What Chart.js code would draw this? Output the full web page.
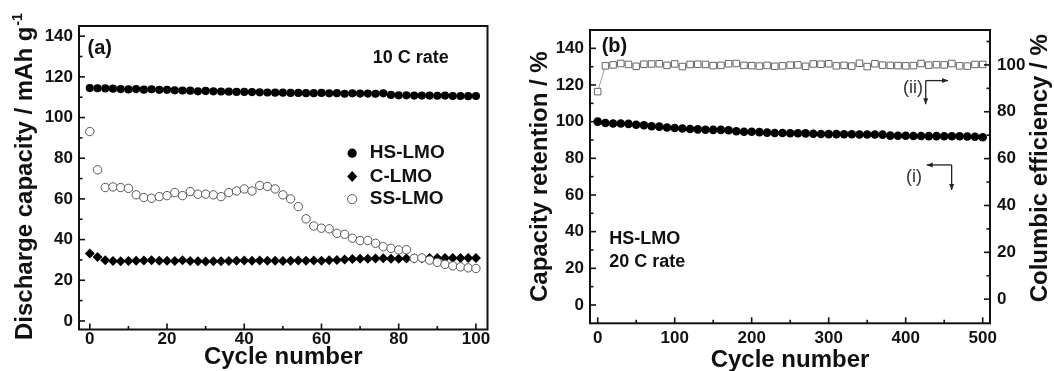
<!DOCTYPE html>
<html>
<head>
<meta charset="utf-8">
<script src="https://cdn.jsdelivr.net/npm/chart.js@4/dist/chart.umd.min.js"></script>
<style>
  html, body { margin: 0; padding: 0; background: #fff; }
  #wrap { position: relative; width: 1054px; height: 371px; background: #fff; overflow: hidden; }
  .pane { position: absolute; top: 0; width: 527px; height: 371px; }
</style>
</head>
<body>
<div id="wrap">
  <div class="pane" style="left:0"><canvas id="ca" width="527" height="371"></canvas></div>
  <div class="pane" style="left:527px"><canvas id="cb" width="527" height="371"></canvas></div>
</div>
<script>
// ---------- Panel (a) data ----------
const cyclesA = [0,2,4,6,8,10,12,14,16,18,20,22,24,26,28,30,32,34,36,38,40,42,44,46,48,50,
  52,54,56,58,60,62,64,66,68,70,72,74,76,78,80,82,84,86,88,90,92,94,96,98,100];
const hsLMO = [114.5,114.4,114.3,114.2,114.0,113.8,114.0,113.7,113.9,113.6,113.6,113.4,113.3,113.2,112.9,113.1,112.9,112.8,112.7,112.6,
  112.6,112.5,112.4,112.3,112.2,112.2,112.1,112.1,112.0,112.0,112.1,111.9,112.0,111.7,111.9,111.8,111.8,111.7,111.9,111.1,
  110.9,110.9,110.8,110.8,110.8,110.7,110.8,110.6,110.6,110.5,110.6];
const cLMO = [33.2,31.4,29.9,29.5,29.4,29.5,29.6,29.7,29.9,29.6,29.6,29.5,29.8,29.5,29.3,29.2,29.3,29.4,29.5,29.6,
  29.7,29.6,29.7,29.6,29.6,29.5,29.6,29.7,29.6,29.7,29.6,29.8,30.0,30.2,30.4,30.6,30.6,30.7,30.8,30.6,
  30.6,30.7,30.7,30.8,30.9,31.0,30.9,31.0,31.0,30.9,31.0];
const ssLMO = [93.1,74.3,65.6,65.9,65.6,65.2,62.0,60.7,60.3,61.1,61.6,63.1,61.6,63.6,62.3,62.3,62.0,61.1,63.1,63.9,
  64.9,63.9,66.6,66.1,64.9,62.0,60.0,56.2,50.2,46.7,45.6,45.3,43.1,42.6,40.7,39.5,39.6,38.2,36.5,35.7,
  34.9,35.0,30.8,31.0,29.9,28.8,27.8,27.1,26.6,26.1,25.8];
const seriesNamesA = ['HS-LMO', 'C-LMO', 'SS-LMO'];
const xTicksA = [0,20,40,60,80,100];
const xMinorA = [10,30,50,70,90];
const yTicksA = [0,20,40,60,80,100,120,140];
const yMinorA = [10,30,50,70,90,110,130];

// ---------- Panel (b) data ----------
const cyclesB = [0,10,20,30,40,50,60,70,80,90,100,110,120,130,140,150,160,170,180,190,200,
  210,220,230,240,250,260,270,280,290,300,310,320,330,340,350,360,370,380,390,400,
  410,420,430,440,450,460,470,480,490,500];
const retentionB = [100.0,99.3,99.0,99.0,98.8,98.3,98.0,97.5,97.3,96.8,96.5,96.3,96.0,95.8,95.6,95.5,95.5,95.3,94.8,94.5,94.5,
  94.3,94.0,93.8,93.8,93.7,93.7,93.6,93.4,93.3,93.2,93.2,93.1,93.1,93.0,93.0,93.0,92.9,92.4,92.3,92.3,
  92.2,92.2,92.1,92.1,92.0,92.0,92.0,91.9,91.8,91.5];
const efficiencyB = [88.6,99.6,100.0,100.6,100.2,99.4,100.3,100.4,100.5,99.8,100.4,99.3,100.2,100.3,100.2,99.7,99.8,100.5,100.6,99.8,99.7,
  99.5,99.8,99.4,99.6,99.9,100.0,99.4,100.4,100.3,100.5,99.6,99.8,99.5,100.7,99.3,100.5,99.9,99.8,99.7,99.6,
  99.7,100.6,99.9,100.1,100.0,100.6,99.6,99.5,100.2,100.2];
const xTicksB = [0,100,200,300,400,500];
const xMinorB = [50,150,250,350,450];
const yTicksB = [0,20,40,60,80,100,120,140];
const yMinorB = [10,30,50,70,90,110,130];
const y2TicksB = [0,20,40,60,80,100];
const y2MinorB = [10,30,50,70,90,110];

// ---------- helpers ----------
const FONT = "'Liberation Sans', Arial, Helvetica, sans-serif";
Chart.defaults.font.family = FONT;
Chart.defaults.color = '#111';
const pts = (xs, ys) => xs.map((x, i) => ({x: x, y: ys[i]}));
const fixTicks = arr => (s => { s.ticks = arr.map(v => ({value: v})); });
const tickFont = {family: FONT, size: 17, weight: 'bold'};
const noGrid = {display: false, drawTicks: false, tickLength: 0};

function arrowTo(ctx, x0, y0, x1, y1, head) {
  ctx.beginPath(); ctx.moveTo(x0, y0); ctx.lineTo(x1, y1); ctx.stroke();
  const a = Math.atan2(y1 - y0, x1 - x0);
  const c = Math.cos(a), s = Math.sin(a), w = head * 0.42;
  ctx.beginPath();
  ctx.moveTo(x1, y1);
  ctx.lineTo(x1 - head * c + w * s, y1 - head * s - w * c);
  ctx.lineTo(x1 - head * c - w * s, y1 - head * s + w * c);
  ctx.closePath(); ctx.fill();
}

const decor = {
  id: 'decor',
  afterDatasetsDraw(chart, args, o) {
    const ctx = chart.ctx, ca = chart.chartArea;
    ctx.save();
    // inward tick marks
    ctx.strokeStyle = '#111'; ctx.lineWidth = 1.6;
    (o.ticks || []).forEach(t => {
      const s = chart.scales[t.scale];
      const draw = (v, len) => {
        const p = s.getPixelForValue(v);
        ctx.beginPath();
        if (t.side === 'bottom') { ctx.moveTo(p, ca.bottom); ctx.lineTo(p, ca.bottom - len); }
        else if (t.side === 'left') { ctx.moveTo(ca.left, p); ctx.lineTo(ca.left + len, p); }
        else { ctx.moveTo(ca.right, p); ctx.lineTo(ca.right - len, p); }
        ctx.stroke();
      };
      t.major.forEach(v => draw(v, 6));
      t.minor.forEach(v => draw(v, 3.5));
    });
    // frame
    ctx.lineWidth = 2; ctx.strokeStyle = '#111';
    ctx.strokeRect(ca.left, ca.top, ca.right - ca.left, ca.bottom - ca.top);
    // texts
    (o.texts || []).forEach(t => {
      let x, y;
      if (t.px !== undefined) { x = t.px; y = t.py; }
      else { x = chart.scales[t.xs || 'x'].getPixelForValue(t.dx); y = chart.scales[t.ys || 'y'].getPixelForValue(t.dy); }
      ctx.save();
      ctx.translate(x, y);
      if (t.rot) ctx.rotate(t.rot);
      ctx.fillStyle = t.color || '#111';
      ctx.font = t.font;
      ctx.textAlign = t.align || 'left';
      ctx.textBaseline = 'middle';
      ctx.fillText(t.text, 0, 0);
      if (t.sup) {
        const w = ctx.measureText(t.text).width;
        ctx.font = t.supFont;
        ctx.fillText(t.sup, w + 1, -8);
      }
      ctx.restore();
    });
    // arrows
    ctx.strokeStyle = '#222'; ctx.fillStyle = '#222'; ctx.lineWidth = 1.3;
    (o.arrows || []).forEach(a => {
      const xs = chart.scales.x, ys = chart.scales.y;
      const cx = xs.getPixelForValue(a.cx), cy = ys.getPixelForValue(a.cy);
      const hx = xs.getPixelForValue(a.hx), vy = ys.getPixelForValue(a.vy);
      arrowTo(ctx, cx, cy, hx, cy, 6);
      arrowTo(ctx, cx, cy, cx, vy, 6);
    });
    // legend
    (o.legend || []).forEach((l) => {
      const ds = chart.data.datasets[l.ds];
      const x = chart.scales.x.getPixelForValue(l.sx);
      const y = chart.scales.y.getPixelForValue(l.dy);
      ctx.beginPath();
      if (l.shape === 'diamond') {
        ctx.moveTo(x, y - 5.5); ctx.lineTo(x + 5, y); ctx.lineTo(x, y + 5.5); ctx.lineTo(x - 5, y); ctx.closePath();
      } else {
        ctx.arc(x, y, 4.6, 0, Math.PI * 2);
      }
      ctx.fillStyle = ds.backgroundColor; ctx.fill();
      if (ds.borderWidth) { ctx.lineWidth = ds.borderWidth; ctx.strokeStyle = ds.borderColor; ctx.stroke(); }
      ctx.fillStyle = '#111';
      ctx.font = 'bold 19px ' + FONT;
      ctx.textAlign = 'left'; ctx.textBaseline = 'middle';
      ctx.fillText(ds.label, chart.scales.x.getPixelForValue(l.tx), y);
    });
    ctx.restore();
  }
};

// ---------- Chart (a) ----------
new Chart(document.getElementById('ca'), {
  type: 'scatter',
  data: {
    datasets: [
      {label: seriesNamesA[0], data: pts(cyclesA, hsLMO), pointStyle: 'circle', pointRadius: 4.1,
       backgroundColor: '#000', borderColor: '#000', borderWidth: 0, order: 1},
      {label: seriesNamesA[1], data: pts(cyclesA, cLMO), pointStyle: 'rectRot', pointRadius: 5,
       backgroundColor: '#000', borderColor: '#000', borderWidth: 0, order: 1},
      {label: seriesNamesA[2], data: pts(cyclesA, ssLMO), pointStyle: 'circle', pointRadius: 4.2,
       backgroundColor: '#fff', borderColor: '#555', borderWidth: 1, order: 0}
    ]
  },
  options: {
    responsive: false, animation: false, devicePixelRatio: 1,
    layout: {padding: {left: 0, right: 39.5, top: 26, bottom: 0}, autoPadding: false},
    plugins: {
      legend: {display: false}, tooltip: {enabled: false},
      decor: {
        ticks: [
          {scale: 'x', side: 'bottom', major: xTicksA, minor: xMinorA},
          {scale: 'y', side: 'left', major: yTicksA, minor: yMinorA}
        ],
        texts: [
          {dx: -0.6, dy: 134.1, text: '(a)', font: 'bold 20px ' + FONT},
          {dx: 73.3, dy: 129.2, text: '10 C rate', font: 'bold 18px ' + FONT},
          {px: 25.8, py: 340, rot: -Math.PI / 2, text: 'Discharge capacity / mAh g', font: 'bold 24px ' + FONT,
           sup: '-1', supFont: 'bold 14px ' + FONT}
        ],
        legend: [
          {ds: 0, shape: 'circle', sx: 67.95, tx: 72.5, dy: 82.5},
          {ds: 1, shape: 'diamond', sx: 67.95, tx: 72.5, dy: 71.0},
          {ds: 2, shape: 'circle', sx: 67.95, tx: 72.5, dy: 59.9}
        ]
      }
    },
    scales: {
      x: {
        type: 'linear', min: -2.8, max: 103,
        afterBuildTicks: fixTicks(xTicksA),
        afterFit: s => { s.height = 41.5; },
        grid: noGrid, border: {display: false},
        ticks: {padding: 0, color: '#111', font: tickFont, maxRotation: 0, autoSkip: false},
        title: {display: true, text: 'Cycle number', color: '#111',
                font: {family: FONT, size: 24, weight: 'bold', lineHeight: 1}, padding: {top: 0, bottom: 2}}
      },
      y: {
        type: 'linear', min: -4.2, max: 145,
        afterBuildTicks: fixTicks(yTicksA),
        afterFit: s => { s.width = 79; },
        grid: noGrid, border: {display: false},
        ticks: {padding: 6, color: '#111', font: tickFont, autoSkip: false},
        title: {display: false}
      }
    }
  },
  plugins: [decor]
});

// ---------- Chart (b) ----------
new Chart(document.getElementById('cb'), {
  type: 'scatter',
  data: {
    datasets: [
      {label: 'Capacity retention', data: pts(cyclesB, retentionB), yAxisID: 'y', pointStyle: 'circle', pointRadius: 4.3,
       backgroundColor: '#000', borderColor: '#000', borderWidth: 0, order: 0},
      {label: 'Columbic efficiency', data: pts(cyclesB, efficiencyB), yAxisID: 'y2', showLine: true,
       borderColor: '#888', borderWidth: 0.8, pointStyle: 'rect', pointRadius: 4.6,
       pointBackgroundColor: '#fff', pointBorderColor: '#666', pointBorderWidth: 1, order: 1}
    ]
  },
  options: {
    responsive: false, animation: false, devicePixelRatio: 1,
    layout: {padding: {left: 0, right: 0, top: 30, bottom: 0}, autoPadding: false},
    plugins: {
      legend: {display: false}, tooltip: {enabled: false},
      decor: {
        ticks: [
          {scale: 'x', side: 'bottom', major: xTicksB, minor: xMinorB},
          {scale: 'y', side: 'left', major: yTicksB, minor: yMinorB},
          {scale: 'y2', side: 'right', major: y2TicksB, minor: y2MinorB}
        ],
        texts: [
          {dx: 5.2, dy: 140.9, text: '(b)', font: 'bold 20px ' + FONT},
          {dx: 15.1, dy: 35.8, text: 'HS-LMO', font: 'bold 18px ' + FONT},
          {dx: 15.1, dy: 23.6, text: '20 C rate', font: 'bold 18px ' + FONT},
          {dx: 409.5, dy: 118.4, text: '(ii)', font: '18px ' + FONT, align: 'center', color: '#333'},
          {dx: 410.8, dy: 70.0, text: '(i)', font: '18px ' + FONT, align: 'center', color: '#333'},
          {px: 513.8, py: 168.3, rot: -Math.PI / 2, text: 'Columbic efficiency / %', font: 'bold 24px ' + FONT, align: 'center'}
        ],
        arrows: [
          {cx: 426, cy: 122.4, hx: 455, vy: 109.5},
          {cx: 459.7, cy: 76.4, hx: 427.3, vy: 62.7}
        ]
      }
    },
    scales: {
      x: {
        type: 'linear', min: -10, max: 509.5,
        afterBuildTicks: fixTicks(xTicksB),
        afterFit: s => { s.height = 47.7; },
        grid: noGrid, border: {display: false},
        ticks: {padding: 4.5, color: '#111', font: tickFont, maxRotation: 0, autoSkip: false},
        title: {display: true, text: 'Cycle number', color: '#111',
                font: {family: FONT, size: 24, weight: 'bold', lineHeight: 0.85}, padding: {top: 0, bottom: 0.4}}
      },
      y: {
        type: 'linear', position: 'left', min: -10, max: 150,
        afterBuildTicks: fixTicks(yTicksB),
        afterFit: s => { s.width = 63; },
        grid: noGrid, border: {display: false},
        ticks: {padding: 6, color: '#111', font: tickFont, autoSkip: false},
        title: {display: true, text: 'Capacity retention / %', color: '#111',
                font: {family: FONT, size: 24, weight: 'bold', lineHeight: 1}, padding: {top: 1, bottom: 0}}
      },
      y2: {
        type: 'linear', position: 'right', min: -10.3, max: 114.9,
        afterBuildTicks: fixTicks(y2TicksB),
        afterFit: s => { s.width = 64; },
        grid: noGrid, border: {display: false},
        ticks: {padding: 7, color: '#111', font: tickFont, autoSkip: false},
        title: {display: false}
      }
    }
  },
  plugins: [decor]
});
</script>
</body>
</html>
